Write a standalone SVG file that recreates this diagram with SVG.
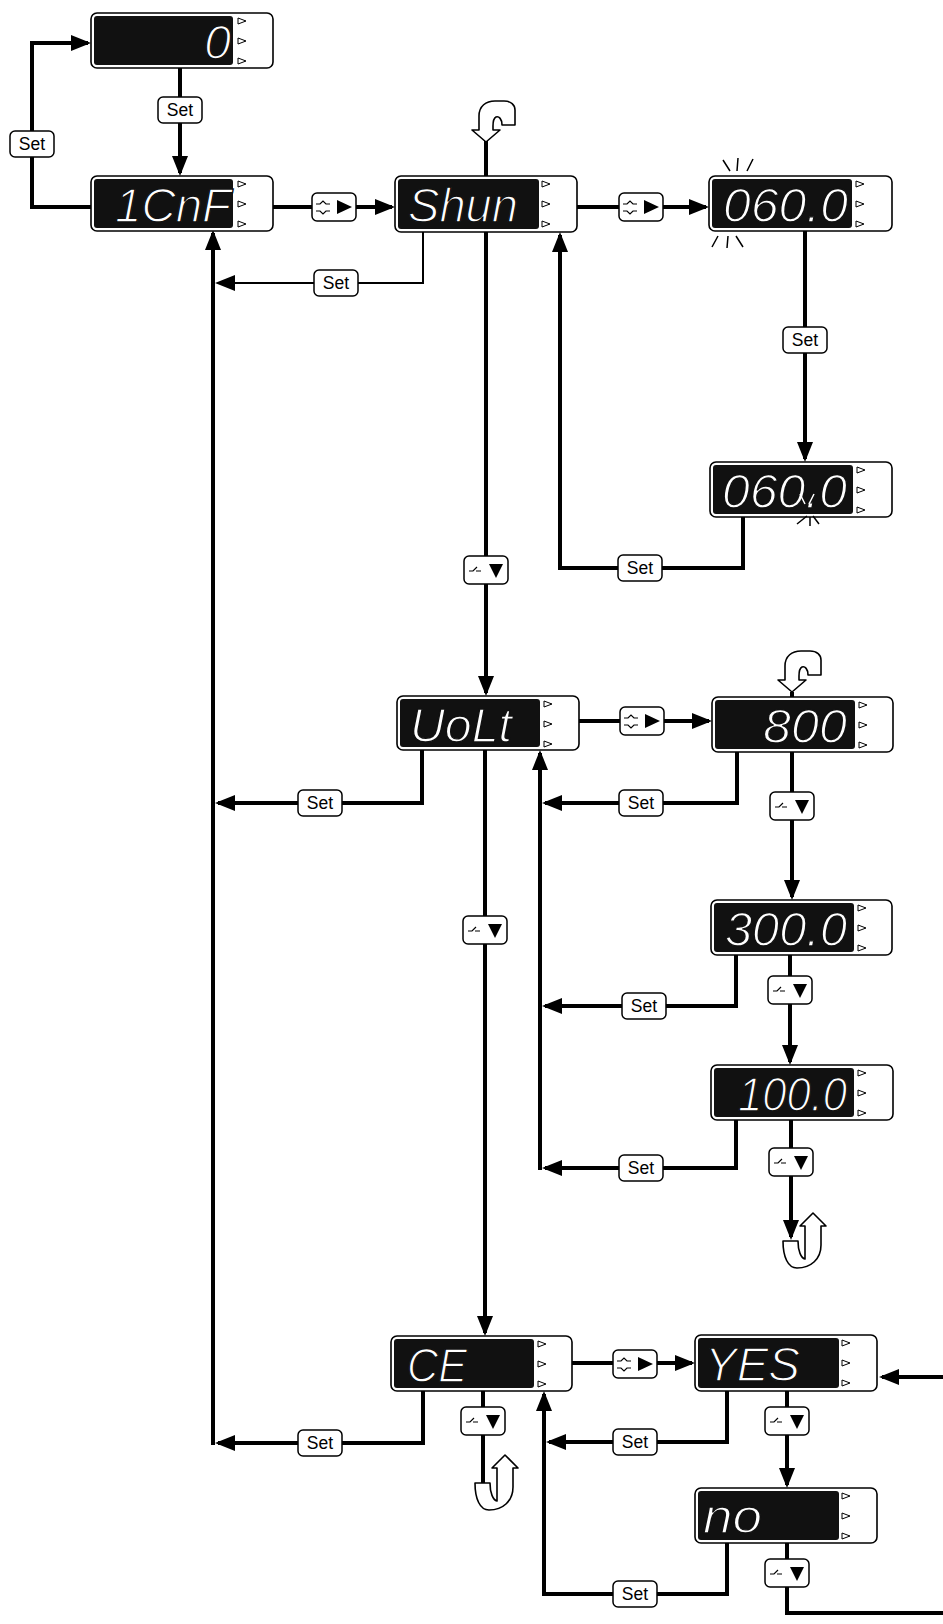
<svg xmlns="http://www.w3.org/2000/svg" xmlns:xlink="http://www.w3.org/1999/xlink" width="943" height="1624" viewBox="0 0 943 1624">
<style>
.bg{fill:#fff}
.ln{fill:none;stroke:#000;stroke-width:4;stroke-linejoin:miter}
.thin{fill:none;stroke:#000;stroke-width:2}
.outer{fill:#fff;stroke:#000;stroke-width:1.6}
.inner{fill:#111}
.ind{fill:#fff;stroke:#000;stroke-width:1}
.disp{font-family:"Liberation Sans","DejaVu Sans",sans-serif;font-style:italic;font-size:48px;fill:#fff;stroke:#111;stroke-width:1.4}
.btn{fill:#fff;stroke:#000;stroke-width:1.5}
.set{font-family:"Liberation Sans","DejaVu Sans",sans-serif;font-size:17.5px;fill:#000;text-anchor:middle}
.loop{fill:#fff;stroke:#000;stroke-width:1.6;stroke-linejoin:round}
.ray{stroke:#000;stroke-width:1.5}
.rayw{stroke:#fff;stroke-width:1.5}
</style>
<defs>
<marker id="ah" markerUnits="userSpaceOnUse" markerWidth="20" markerHeight="16" viewBox="0 0 20 16" refX="17" refY="8" orient="auto"><path d="M0,0 L20,8 L0,16 Z" fill="#000"/></marker>
<g id="inds"><path class="ind" d="M147,5 L155,8 L147,11 Z M147,25 L155,28 L147,31 Z M147,45 L155,48 L147,51 Z"/></g>
<g id="keyR"><rect class="btn" x="0" y="0" width="44" height="28" rx="5"/><path d="M4,11 H8 L11,8 L14,11 H18 M4,18 H8 L11,21 L14,18 H18" fill="none" stroke="#000" stroke-width="1.2"/><path d="M25,7 L40,14 L25,21 Z" fill="#000"/></g>
<g id="keyD"><rect class="btn" x="0" y="0" width="44" height="28" rx="5"/><path d="M5,15 H9 L13,11 M12,15 H17" fill="none" stroke="#000" stroke-width="1.2"/><path d="M25,8 L39,8 L32,22 Z" fill="#000"/></g>
<path id="loopTop" class="loop" d="M0,0 L-14,-12 L-7,-12 L-7,-26 C-7,-36 0,-41 9,-41 L18,-41 C25,-41 29,-37 29,-32 L29,-17 L16,-17 C16,-23 13,-26 10,-25 C8,-24 7,-20 7,-16 L7,-12 L14,-12 Z"/>
<path id="loopBot" class="loop" d="M-8,0 L7,0 C7,10 10,17 14,18 L14,-15 L9,-15 L22,-28 L35,-15 L30,-15 L30,4 C30,18 20,27 6,27 C-3,27 -8,16 -8,0 Z"/>
</defs>
<rect class="bg" x="0" y="0" width="943" height="1624"/>

<g id="connectors">
<path class="ln" d="M91,207 H32 V43 H88" marker-end="url(#ah)"/>
<path class="ln" d="M180,68 V173" marker-end="url(#ah)"/>
<path class="ln" d="M273,207 H392" marker-end="url(#ah)"/>
<path class="ln" d="M577,207 H706" marker-end="url(#ah)"/>
<path class="ln" d="M486,176 V140"/>
<path class="thin" d="M423,232 V283 H218" marker-end="url(#ah)"/>
<path class="ln" d="M213,1445 V233" marker-end="url(#ah)"/>
<path class="ln" d="M805,231 V459" marker-end="url(#ah)"/>
<path class="ln" d="M743,517 V568 H560 V235" marker-end="url(#ah)"/>
<path class="ln" d="M486,232 V693" marker-end="url(#ah)"/>
<path class="ln" d="M579,721 H709" marker-end="url(#ah)"/>
<path class="ln" d="M792,697 V692"/>
<path class="ln" d="M422,750 V803 H218" marker-end="url(#ah)"/>
<path class="ln" d="M485,750 V1333" marker-end="url(#ah)"/>
<path class="ln" d="M792,752 V897" marker-end="url(#ah)"/>
<path class="ln" d="M737,752 V803 H545" marker-end="url(#ah)"/>
<path class="ln" d="M540,1170 V753" marker-end="url(#ah)"/>
<path class="ln" d="M790,955 V1062" marker-end="url(#ah)"/>
<path class="ln" d="M736,955 V1006 H545" marker-end="url(#ah)"/>
<path class="ln" d="M791,1120 V1237" marker-end="url(#ah)"/>
<path class="ln" d="M736,1120 V1168 H545" marker-end="url(#ah)"/>
<path class="ln" d="M572,1363 H692" marker-end="url(#ah)"/>
<path class="ln" d="M483,1391 V1483"/>
<path class="ln" d="M423,1391 V1443 H218" marker-end="url(#ah)"/>
<path class="ln" d="M727,1391 V1442 H549" marker-end="url(#ah)"/>
<path class="ln" d="M787,1391 V1485" marker-end="url(#ah)"/>
<path class="ln" d="M727,1543 V1594 H544 V1394" marker-end="url(#ah)"/>
<path class="ln" d="M787,1543 V1613 H943"/>
<path class="ln" d="M943,1377 H882" marker-end="url(#ah)"/>

<use xlink:href="#loopTop" href="#loopTop" x="486" y="142"/>
<use xlink:href="#loopTop" href="#loopTop" x="792" y="692"/>
<use xlink:href="#loopBot" href="#loopBot" x="791" y="1241"/>
<use xlink:href="#loopBot" href="#loopBot" x="483" y="1483"/>

<use xlink:href="#keyR" href="#keyR" x="312" y="193"/>
<use xlink:href="#keyR" href="#keyR" x="619" y="193"/>
<use xlink:href="#keyD" href="#keyD" x="464" y="556"/>
<use xlink:href="#keyR" href="#keyR" x="620" y="707"/>
<use xlink:href="#keyD" href="#keyD" x="770" y="792"/>
<use xlink:href="#keyD" href="#keyD" x="463" y="916"/>
<use xlink:href="#keyD" href="#keyD" x="768" y="976"/>
<use xlink:href="#keyD" href="#keyD" x="769" y="1148"/>
<use xlink:href="#keyR" href="#keyR" x="613" y="1350"/>
<use xlink:href="#keyD" href="#keyD" x="461" y="1407"/>
<use xlink:href="#keyD" href="#keyD" x="765" y="1407"/>
<use xlink:href="#keyD" href="#keyD" x="765" y="1559"/>

<rect class="btn" x="10" y="131" width="44" height="26" rx="5"/><text class="set" x="32" y="150">Set</text>
<rect class="btn" x="158" y="97" width="44" height="26" rx="5"/><text class="set" x="180" y="116">Set</text>
<rect class="btn" x="314" y="270" width="44" height="26" rx="5"/><text class="set" x="336" y="289">Set</text>
<rect class="btn" x="783" y="327" width="44" height="26" rx="5"/><text class="set" x="805" y="346">Set</text>
<rect class="btn" x="618" y="555" width="44" height="26" rx="5"/><text class="set" x="640" y="574">Set</text>
<rect class="btn" x="298" y="790" width="44" height="26" rx="5"/><text class="set" x="320" y="809">Set</text>
<rect class="btn" x="619" y="790" width="44" height="26" rx="5"/><text class="set" x="641" y="809">Set</text>
<rect class="btn" x="622" y="993" width="44" height="26" rx="5"/><text class="set" x="644" y="1012">Set</text>
<rect class="btn" x="619" y="1155" width="44" height="26" rx="5"/><text class="set" x="641" y="1174">Set</text>
<rect class="btn" x="298" y="1430" width="44" height="26" rx="5"/><text class="set" x="320" y="1449">Set</text>
<rect class="btn" x="613" y="1429" width="44" height="26" rx="5"/><text class="set" x="635" y="1448">Set</text>
<rect class="btn" x="613" y="1581" width="44" height="26" rx="5"/><text class="set" x="635" y="1600">Set</text>
</g>

<g id="node-0">
<rect class="outer" x="91" y="13" width="182" height="55" rx="6"/>
<rect class="inner" x="94" y="16" width="139" height="49" rx="3"/>
<use xlink:href="#inds" href="#inds" x="91" y="13"/>
<text class="disp" x="231" y="59" text-anchor="end">0</text>
</g>
<g id="node-1CnF">
<rect class="outer" x="91" y="176" width="182" height="55" rx="6"/>
<rect class="inner" x="94" y="179" width="139" height="49" rx="3"/>
<use xlink:href="#inds" href="#inds" x="91" y="176"/>
<text class="disp" x="115" y="222" textLength="116" lengthAdjust="spacingAndGlyphs">1CnF</text>
</g>
<g id="node-Shun">
<rect class="outer" x="395" y="176" width="182" height="56" rx="6"/>
<rect class="inner" x="398" y="179" width="141" height="50" rx="3"/>
<use xlink:href="#inds" href="#inds" x="395" y="176"/>
<text class="disp" x="408" y="222" textLength="110" lengthAdjust="spacingAndGlyphs">Shun</text>
</g>
<g id="node-060a">
<rect class="outer" x="709" y="176" width="183" height="55" rx="6"/>
<rect class="inner" x="712" y="179" width="140" height="49" rx="3"/>
<use xlink:href="#inds" href="#inds" x="709" y="176"/>
<text class="disp" x="723" y="222" textLength="125" lengthAdjust="spacingAndGlyphs">060.0</text>
<path class="ray" d="M723,160 L730,171 M738,158 L737,171 M753,159 L747,171 M712,247 L718,236 M727,248 L728,236 M743,247 L736,236"/>
</g>
<g id="node-060b">
<rect class="outer" x="710" y="462" width="182" height="55" rx="6"/>
<rect class="inner" x="713" y="465" width="140" height="49" rx="3"/>
<use xlink:href="#inds" href="#inds" x="710" y="462"/>
<text class="disp" x="722" y="508" textLength="125" lengthAdjust="spacingAndGlyphs">060.0</text>
<path class="rayw" d="M800,494 L805,504 M814,494 L809,504"/>
<path class="ray" d="M797,524 L807,516 M810,526 L810,517 M819,524 L813,516"/>
</g>
<g id="node-UoLt">
<rect class="outer" x="397" y="696" width="182" height="54" rx="6"/>
<rect class="inner" x="400" y="699" width="140" height="48" rx="3"/>
<use xlink:href="#inds" href="#inds" x="397" y="696"/>
<text class="disp" x="410" y="742" textLength="102" lengthAdjust="spacingAndGlyphs">UoLt</text>
</g>
<g id="node-800">
<rect class="outer" x="712" y="697" width="181" height="55" rx="6"/>
<rect class="inner" x="715" y="700" width="140" height="49" rx="3"/>
<use xlink:href="#inds" href="#inds" x="712" y="697"/>
<text class="disp" x="763" y="743" textLength="84" lengthAdjust="spacingAndGlyphs">800</text>
</g>
<g id="node-300">
<rect class="outer" x="711" y="900" width="181" height="55" rx="6"/>
<rect class="inner" x="714" y="903" width="140" height="49" rx="3"/>
<use xlink:href="#inds" href="#inds" x="711" y="900"/>
<text class="disp" x="725" y="946" textLength="122" lengthAdjust="spacingAndGlyphs">300.0</text>
</g>
<g id="node-100">
<rect class="outer" x="711" y="1065" width="182" height="55" rx="6"/>
<rect class="inner" x="714" y="1068" width="140" height="49" rx="3"/>
<use xlink:href="#inds" href="#inds" x="711" y="1065"/>
<text class="disp" x="738" y="1111" textLength="109" lengthAdjust="spacingAndGlyphs">100.0</text>
</g>
<g id="node-CE">
<rect class="outer" x="391" y="1336" width="181" height="55" rx="6"/>
<rect class="inner" x="394" y="1339" width="140" height="49" rx="3"/>
<use xlink:href="#inds" href="#inds" x="391" y="1336"/>
<text class="disp" x="407" y="1382" textLength="60" lengthAdjust="spacingAndGlyphs">CE</text>
</g>
<g id="node-YES">
<rect class="outer" x="695" y="1335" width="182" height="56" rx="6"/>
<rect class="inner" x="698" y="1338" width="141" height="50" rx="3"/>
<use xlink:href="#inds" href="#inds" x="695" y="1335"/>
<text class="disp" x="705" y="1381" textLength="95" lengthAdjust="spacingAndGlyphs">YES</text>
</g>
<g id="node-no">
<rect class="outer" x="695" y="1488" width="182" height="55" rx="6"/>
<rect class="inner" x="698" y="1491" width="141" height="49" rx="3"/>
<use xlink:href="#inds" href="#inds" x="695" y="1488"/>
<text class="disp" x="703" y="1533" font-size="40" textLength="59" lengthAdjust="spacingAndGlyphs">no</text>
</g>
</svg>
